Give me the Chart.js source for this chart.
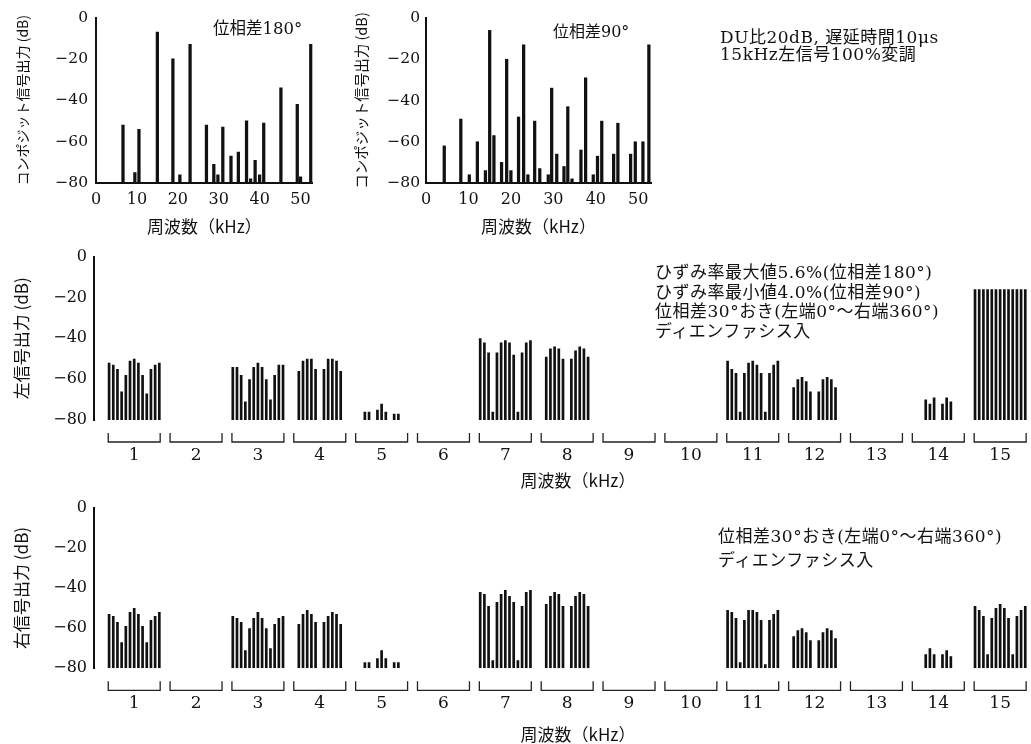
<!DOCTYPE html>
<html lang="ja">
<head>
<meta charset="utf-8">
<script src="https://cdn.jsdelivr.net/npm/chart.js@4.4.0/dist/chart.umd.min.js"></script>
<style>
  html, body { margin: 0; padding: 0; background: #fff; }
  body { position: relative; width: 1031px; height: 744px; overflow: hidden; }
  canvas { position: absolute; }
  .note { position: absolute; font-family: 'DejaVu Serif', 'Noto Sans CJK JP', serif; color: #111; white-space: nowrap; }
</style>
</head>
<body>
<canvas id="c180" width="318" height="237" style="left:0;top:0"></canvas>
<canvas id="c90" width="316" height="237" style="left:340px;top:0"></canvas>
<canvas id="cL" width="1062" height="251" style="left:0;top:240px"></canvas>
<canvas id="cR" width="1062" height="254" style="left:0;top:491px"></canvas>

<div class="note" style="left:213px;top:19px;font-size:16.5px;line-height:20px">位相差180°</div>
<div class="note" style="left:553px;top:22px;font-size:16px;line-height:20px">位相差90°</div>
<div class="note" style="left:720px;top:29px;font-size:17px;line-height:17px;letter-spacing:0.5px">DU比20dB, 遅延時間10μs<br>15kHz左信号100%変調</div>
<div class="note" style="left:655px;top:263px;font-size:17px;line-height:19.5px;letter-spacing:0.5px">ひずみ率最大値5.6%(位相差180°)<br>ひずみ率最小値4.0%(位相差90°)<br>位相差30°おき(左端0°〜右端360°)<br>ディエンファシス入</div>
<div class="note" style="left:718px;top:524px;font-size:17px;line-height:24px;letter-spacing:0.5px">位相差30°おき(左端0°〜右端360°)<br>ディエンファシス入</div>

<script>
// 上段: コンポジット信号のスペクトル (kHz, dB)
const freq180  = [6.6, 9.5, 10.5, 15, 18.8, 20.5, 23, 27, 28.8, 29.8, 31, 33, 34.8, 36.8, 37.8, 38.9, 40, 41, 45.2, 49.2, 50, 52.5];
const level180 = [-52, -75, -54, -7, -20, -76, -13, -52, -71, -76, -53, -67, -65, -50, -78, -69, -76, -51, -34, -42, -77, -13];

const freq90  = [4.3, 8.2, 10.2, 12.1, 14, 15, 16, 17.8, 19, 20, 21.8, 23, 24, 25.6, 26.8, 28.8, 29.6, 30.8, 32.5, 33.4, 34.4, 36.5, 37.6, 39.4, 40.4, 41.4, 44.2, 45.2, 48.2, 49.3, 51.1, 52.5];
const level90 = [-62, -49, -76, -60, -74, -6, -57, -70, -20, -74, -48, -13, -76, -50, -73, -76, -34, -66, -72, -43, -78, -64, -29, -76, -67, -50, -66, -51, -66, -60, -60, -13];

// 中・下段: 変調周波数ごと, 位相差 0°〜360° (30°おき) の出力 (dB), null = 線なし
const kHz = [1, 2, 3, 4, 5, 6, 7, 8, 9, 10, 11, 12, 13, 14, 15];
const phases = [0, 30, 60, 90, 120, 150, 180, 210, 240, 270, 300, 330, 360];

const leftOut = [
  [-52, -53, -55, -66, -58, -51, -50, -52, -58, -67, -55, -53, -52],
  null,
  [-54, -54, -58, -71, -60, -54, -52, -54, -60, -70, -58, -53, -53],
  [null, -56, -51, -50, -50, -55, null, -55, -50, -50, -51, -56, null],
  [null, null, -76, -76, null, -75, -72, -76, null, -77, -77, null, null],
  null,
  [-40, -42, -47, -76, -47, -42, -41, -42, -48, -76, -47, -42, -41],
  [null, -49, -45, -44, -45, -50, null, -50, -46, -44, -45, -49, null],
  null,
  null,
  [-51, -55, -57, -76, -57, -52, -51, -53, -57, -76, -57, -53, -51],
  [null, -64, -60, -59, -61, -66, null, -66, -60, -59, -60, -64, null],
  null,
  [null, null, null, -70, -72, -69, null, -72, -69, -71, null, null, null],
  [-16, -16, -16, -16, -16, -16, -16, -16, -16, -16, -16, -16, -16]
];

const rightOut = [
  [-53, -54, -57, -67, -59, -52, -50, -53, -59, -67, -56, -54, -52],
  null,
  [-54, -55, -57, -71, -60, -55, -52, -55, -60, -70, -58, -55, -54],
  [null, -58, -53, -51, -53, -57, null, -57, -54, -52, -53, -58, null],
  [null, null, -77, -77, null, -75, -71, -75, null, -77, -77, null, null],
  null,
  [-42, -43, -49, -76, -47, -43, -41, -44, -47, -76, -49, -42, -41],
  [null, -48, -44, -42, -43, -49, null, -49, -44, -42, -43, -49, null],
  null,
  null,
  [-51, -52, -55, -77, -56, -51, -51, -52, -56, -78, -56, -53, -51],
  [null, -64, -61, -60, -62, -66, null, -66, -62, -60, -61, -65, null],
  null,
  [null, null, null, -73, -70, -73, null, -73, -71, -74, null, null, null],
  [-49, -51, -54, -73, -55, -50, -48, -50, -55, -73, -54, -51, -49]
];

const serif = "'DejaVu Serif', serif";
const jp = "'Noto Sans CJK JP', sans-serif";
const ink = '#111';

function minus(v) {
  return v < 0 ? '\u2212' + (-v) : String(v);
}

function dbAxis(width, text, size, pad, tickPad, tickSize) {
  return {
    min: -80, max: 0,
    grid: { display: false, drawTicks: false },
    border: { display: true, color: ink, width: 2 },
    ticks: { stepSize: 20, padding: tickPad, color: ink, font: { family: serif, size: tickSize }, callback: minus },
    title: { display: true, text: text, color: ink, font: { family: jp, size: size }, padding: { top: pad, bottom: 0 } },
    afterFit: s => { s.width = width; }
  };
}

// 上段の2枚
function spectrum(id, freqs, levels, yWidth, topPad, titleSize, titlePad, tickPad) {
  new Chart(document.getElementById(id), {
    type: 'bar',
    data: {
      datasets: [{
        data: freqs.map((f, i) => ({ x: f, y: [-80, levels[i]] })),
        backgroundColor: ink,
        borderWidth: 0,
        barThickness: 2.6
      }]
    },
    options: {
      responsive: false,
      animation: false,
      devicePixelRatio: 1,
      layout: { padding: { top: topPad, right: 5, left: 0, bottom: 0 } },
      plugins: { legend: { display: false }, tooltip: { enabled: false } },
      scales: {
        x: {
          type: 'linear', min: 0, max: 53, offset: false,
          grid: { display: false, drawTicks: false },
          border: { display: true, color: ink, width: 2 },
          ticks: { stepSize: 10, includeBounds: false, padding: 7, maxRotation: 0, color: ink, font: { family: serif, size: 16 } },
          title: { display: true, text: '周波数（kHz）', color: ink, font: { family: jp, size: 17 }, padding: 0 },
          afterFit: s => { s.height = 54; }
        },
        y: dbAxis(yWidth, 'コンポジット信号出力 (dB)', titleSize, titlePad, tickPad, 15.5)
      }
    }
  });
}

// 各群の下のかぎ括弧
const bracketPlugin = {
  id: 'brackets',
  afterDraw(chart) {
    const { ctx, chartArea, scales: { x } } = chart;
    const half = x.getPixelForValue(1.42) - x.getPixelForValue(1);
    const y0 = chartArea.bottom + 13, y1 = chartArea.bottom + 22;
    ctx.save();
    ctx.strokeStyle = '#222';
    ctx.lineWidth = 1.3;
    x.ticks.forEach(t => {
      const c = x.getPixelForValue(t.value);
      ctx.beginPath();
      ctx.moveTo(c - half, y0);
      ctx.lineTo(c - half, y1);
      ctx.lineTo(c + half, y1);
      ctx.lineTo(c + half, y0);
      ctx.stroke();
    });
    ctx.restore();
  }
};

function phaseChart(id, outs, yTitle, topPad, xHeight) {
  const datasets = phases.map((p, j) => ({
    label: p + '°',
    data: kHz.flatMap((k, i) => (outs[i] && outs[i][j] != null) ? [{ x: k, y: [-80, outs[i][j]] }] : []),
    backgroundColor: ink,
    borderWidth: 0,
    categoryPercentage: 0.88,
    barPercentage: 0.64
  }));
  new Chart(document.getElementById(id), {
    type: 'bar',
    data: { datasets: datasets },
    options: {
      responsive: false,
      animation: false,
      devicePixelRatio: 1,
      layout: { padding: { top: topPad, right: 0, left: 0, bottom: 0 } },
      plugins: { legend: { display: false }, tooltip: { enabled: false } },
      scales: {
        x: {
          type: 'linear', min: 0.35, max: 16, offset: false,
          grid: { display: false, drawTicks: false },
          border: { display: false },
          afterBuildTicks: s => { s.ticks = kHz.map(v => ({ value: v })); },
          ticks: { autoSkip: false, padding: 25, maxRotation: 0, color: ink, font: { family: serif, size: 17 }, callback: v => String(v) },
          title: { display: true, text: '周波数（kHz）', color: ink, font: { family: jp, size: 17 }, padding: 0 },
          afterFit: s => { s.height = xHeight; }
        },
        y: dbAxis(94, yTitle, 17, 11.8, 7, 16)
      }
    },
    plugins: [bracketPlugin]
  });
}

spectrum('c180', freq180, level180, 96, 17.5, 14, 14, 8);
spectrum('c90', freq90, level90, 86, 18, 14.5, 12.8, 6);
phaseChart('cL', leftOut, '左信号出力 (dB)', 13.3, 71);
phaseChart('cR', rightOut, '右信号出力 (dB)', 12.3, 76.7);
</script>
</body>
</html>
